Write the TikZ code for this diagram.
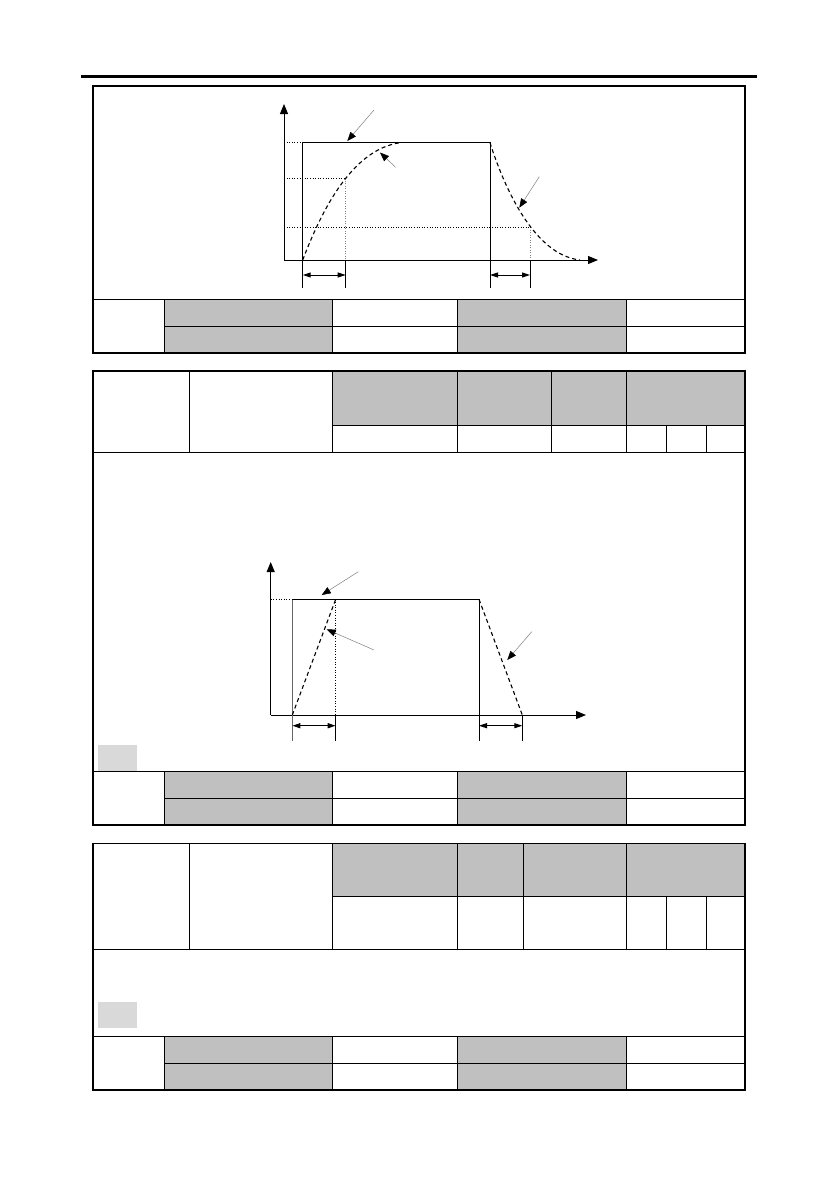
\documentclass[tikz,border=0pt]{standalone}
\usetikzlibrary{arrows.meta}
\definecolor{hdrgray}{HTML}{C0C0C0}
\definecolor{boxgray}{HTML}{D9D9D9}
\tikzset{
  outer/.style={line width=1.3pt},
  inner/.style={line width=0.9pt},
  hcell/.style={fill=hdrgray},
  axis/.style={line width=1pt,-{Triangle[length=10pt,width=8pt]}},
  dotln/.style={line width=0.6pt,dotted},
  lightdot/.style={line width=0.5pt,dotted,gray},
  dashcurve/.style={line width=1.1pt,dash pattern=on 4pt off 3pt},
  plainln/.style={line width=1pt},
  dimarrow/.style={line width=1pt,{Triangle[length=8pt,width=5pt]}-{Triangle[length=8pt,width=5pt]}},
  pointer/.style={line width=0.5pt,draw=gray,-{Triangle[length=9pt,width=7pt,black]}}
}
\begin{document}
\begin{tikzpicture}[x=1pt,y=-1pt]
\useasboundingbox (0,0) rectangle (839,1191);
\fill[white] (0,0) rectangle (839,1191);
% header rule
\draw[line width=2.6pt] (81,76.5) -- (757,76.5);

% ================= TABLE 1 =================
\fill[hdrgray] (164,299) rectangle (332,353);
\fill[hdrgray] (457,299) rectangle (626,353);
\draw[inner] (93,299) -- (745,299);
\draw[inner] (164,326) -- (745,326);
\draw[inner] (164,299) -- (164,353);
\draw[inner] (332,299) -- (332,353);
\draw[inner] (457,299) -- (457,353);
\draw[inner] (626,299) -- (626,353);
\draw[outer] (93,86) rectangle (745,353);

% graph 1
\draw[axis] (284,260) -- (284,104);
\draw[axis] (284,260) -- (598,260);
\draw[plainln] (302.7,288) -- (302.7,142.7) -- (490,142.7) -- (490,288);
\draw[dotln] (284,142.7) -- (302.7,142.7);
\draw[dotln] (284,178.3) -- (345.7,178.3);
\draw[dotln] (284,227.3) -- (530,227.3);
\draw[lightdot] (345.7,178.3) -- (345.7,260);
\draw[lightdot] (530,227.3) -- (530,260);
\draw[plainln] (345.7,260) -- (345.7,288);
\draw[plainln] (530,260) -- (530,288);
\draw[dimarrow] (302.7,275) -- (345.7,275);
\draw[dimarrow] (490,275) -- (530,275);
\draw[dashcurve] (302.7,260) .. controls (320,215) and (350,150) .. (400,142.7);
\draw[dashcurve] (490,142.7) .. controls (505,190) and (535,255) .. (580,260);
\draw[pointer] (374,110) -- (347.3,141);
\draw[pointer] (395.7,167.3) -- (380,152.5);
\draw[pointer] (539.3,176.7) -- (519.3,207.7);

% ================= TABLE 2 =================
\fill[hdrgray] (332,371) rectangle (745,425);
\draw[inner] (93,425) ++(239,0) -- (745,425);
\draw[inner] (189,371) -- (189,452);
\draw[inner] (332,371) -- (332,452);
\draw[inner] (457,371) -- (457,452);
\draw[inner] (551,371) -- (551,452);
\draw[inner] (626,371) -- (626,452);
\draw[inner] (666,425) -- (666,452);
\draw[inner] (706,425) -- (706,452);
\draw[inner] (93,452) -- (745,452);
% graph 2
\draw[axis] (270.7,715) -- (270.7,562);
\draw[axis] (270.7,715) -- (586,715);
\draw[plainln,draw=gray!80!black] (292.3,740.7) -- (292.3,599.3);
\draw[plainln] (292.3,599.3) -- (479,599.3) -- (479,740.7);
\draw[dotln] (270.7,599.3) -- (292.3,599.3);
\draw[dotln] (335.7,599.3) -- (335.7,715);
\draw[plainln] (335.7,715) -- (335.7,740.7);
\draw[plainln] (522.3,715) -- (522.3,740.7);
\draw[dimarrow] (292.3,725.7) -- (335.7,725.7);
\draw[dimarrow] (479,725.7) -- (522.3,725.7);
\draw[dashcurve] (292.3,715) -- (335.7,599.3);
\draw[dashcurve] (479,599.3) -- (522.3,715);
\draw[pointer] (358.3,571.7) -- (321.7,595);
\draw[pointer] (374,650) -- (326.7,629.3);
\draw[pointer] (531.7,631.7) -- (507.3,660);
% small gray box
\fill[boxgray] (98,745) rectangle (137,770.5);
% bottom rows
\fill[hdrgray] (164,771) rectangle (332,825);
\fill[hdrgray] (457,771) rectangle (626,825);
\draw[inner] (93,771) -- (745,771);
\draw[inner] (164,798) -- (745,798);
\draw[inner] (164,771) -- (164,825);
\draw[inner] (332,771) -- (332,825);
\draw[inner] (457,771) -- (457,825);
\draw[inner] (626,771) -- (626,825);
\draw[outer] (93,371) rectangle (745,825);

% ================= TABLE 3 =================
\fill[hdrgray] (332,843.3) rectangle (745,896.3);
\draw[inner] (332,896.3) -- (745,896.3);
\draw[inner] (189,843.3) -- (189,949);
\draw[inner] (332,843.3) -- (332,949);
\draw[inner] (457,843.3) -- (457,949);
\draw[inner] (523,843.3) -- (523,949);
\draw[inner] (626,843.3) -- (626,949);
\draw[inner] (666,896.3) -- (666,949);
\draw[inner] (706,896.3) -- (706,949);
\draw[inner] (93,949) -- (745,949);
\fill[boxgray] (98,1002) rectangle (137,1027.7);
\fill[hdrgray] (164,1036.3) rectangle (332,1090);
\fill[hdrgray] (457,1036.3) rectangle (626,1090);
\draw[inner] (93,1036.3) -- (745,1036.3);
\draw[inner] (164,1063.3) -- (745,1063.3);
\draw[inner] (164,1036.3) -- (164,1090);
\draw[inner] (332,1036.3) -- (332,1090);
\draw[inner] (457,1036.3) -- (457,1090);
\draw[inner] (626,1036.3) -- (626,1090);
\draw[outer] (93,843.3) rectangle (745,1090);
\end{tikzpicture}
\end{document}
